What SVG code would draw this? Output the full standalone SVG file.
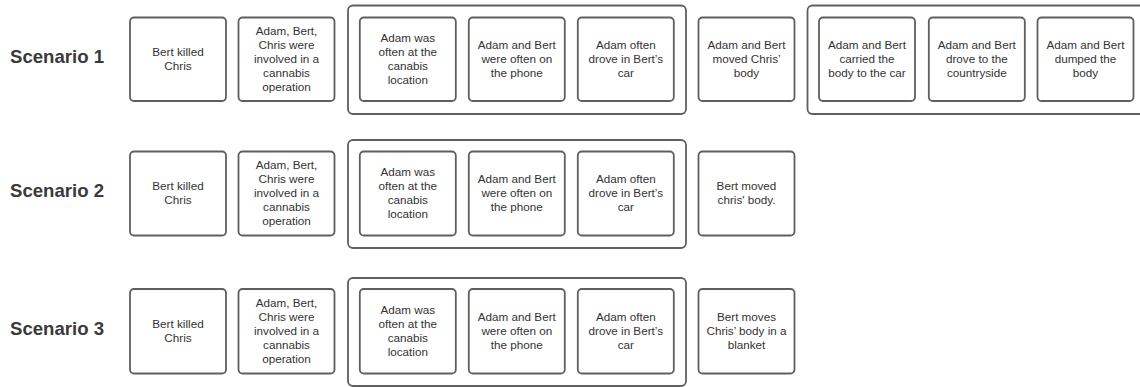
<svg xmlns="http://www.w3.org/2000/svg" width="1140" height="387" viewBox="0 0 1140 387">
<style>
.bg{fill:#ffffff}
.box{fill:#ffffff;stroke:#5f5f5f;stroke-width:1.8}
.grp{fill:none;stroke:#5f5f5f;stroke-width:1.8}
.t{font-family:"Liberation Sans",Arial,sans-serif;font-size:11.7px;fill:#333333;text-anchor:middle}
.lbl{font-family:"Liberation Sans",Arial,sans-serif;font-size:18.6px;font-weight:bold;fill:#3a3a3a}
</style>
<rect class="bg" x="0" y="0" width="1140" height="387"/>
<g id="connectors"></g>

<!-- Row 1 -->
<g id="label1"><text class="lbl" x="10" y="63.3">Scenario 1</text></g>
<g id="group1a"><rect class="grp" x="348" y="5.5" width="338" height="108.5" rx="5"/></g>
<g id="group1b"><rect class="grp" x="807.5" y="5.5" width="338" height="108.5" rx="5"/></g>
<g id="r1n1"><rect class="box" x="130" y="17.5" width="96" height="83.5" rx="4"/>
<text class="t" x="178"><tspan x="178" y="55.5">Bert killed</tspan><tspan x="178" y="69.5">Chris</tspan></text></g>
<g id="r1n2"><rect class="box" x="238.5" y="17.5" width="96" height="83.5" rx="4"/>
<text class="t"><tspan x="286.5" y="34.5">Adam, Bert,</tspan><tspan x="286.5" y="48.5">Chris were</tspan><tspan x="286.5" y="62.5">involved in a</tspan><tspan x="286.5" y="76.5">cannabis</tspan><tspan x="286.5" y="90.5">operation</tspan></text></g>
<g id="r1n3"><rect class="box" x="359.8" y="17.5" width="96" height="83.5" rx="4"/>
<text class="t"><tspan x="407.8" y="41.5">Adam was</tspan><tspan x="407.8" y="55.5">often at the</tspan><tspan x="407.8" y="69.5">canabis</tspan><tspan x="407.8" y="83.5">location</tspan></text></g>
<g id="r1n4"><rect class="box" x="468.8" y="17.5" width="96" height="83.5" rx="4"/>
<text class="t"><tspan x="516.8" y="48.5">Adam and Bert</tspan><tspan x="516.8" y="62.5">were often on</tspan><tspan x="516.8" y="76.5">the phone</tspan></text></g>
<g id="r1n5"><rect class="box" x="577.8" y="17.5" width="96" height="83.5" rx="4"/>
<text class="t"><tspan x="625.8" y="48.5">Adam often</tspan><tspan x="625.8" y="62.5">drove in Bert’s</tspan><tspan x="625.8" y="76.5">car</tspan></text></g>
<g id="r1n6"><rect class="box" x="698.5" y="17.5" width="96" height="83.5" rx="4"/>
<text class="t"><tspan x="746.5" y="48.5">Adam and Bert</tspan><tspan x="746.5" y="62.5">moved Chris’</tspan><tspan x="746.5" y="76.5">body</tspan></text></g>
<g id="r1n7"><rect class="box" x="819" y="17.5" width="96" height="83.5" rx="4"/>
<text class="t"><tspan x="867" y="48.5">Adam and Bert</tspan><tspan x="867" y="62.5">carried the</tspan><tspan x="867" y="76.5">body to the car</tspan></text></g>
<g id="r1n8"><rect class="box" x="928.8" y="17.5" width="96" height="83.5" rx="4"/>
<text class="t"><tspan x="976.8" y="48.5">Adam and Bert</tspan><tspan x="976.8" y="62.5">drove to the</tspan><tspan x="976.8" y="76.5">countryside</tspan></text></g>
<g id="r1n9"><rect class="box" x="1037.5" y="17.5" width="96" height="83.5" rx="4"/>
<text class="t"><tspan x="1085.5" y="48.5">Adam and Bert</tspan><tspan x="1085.5" y="62.5">dumped the</tspan><tspan x="1085.5" y="76.5">body</tspan></text></g>

<!-- Row 2 -->
<g id="label2"><text class="lbl" x="10" y="197.3">Scenario 2</text></g>
<g id="group2"><rect class="grp" x="348" y="140" width="338" height="108" rx="5"/></g>
<g id="r2n1"><rect class="box" x="130" y="151.5" width="96" height="84" rx="4"/>
<text class="t"><tspan x="178" y="189.7">Bert killed</tspan><tspan x="178" y="203.7">Chris</tspan></text></g>
<g id="r2n2"><rect class="box" x="238.5" y="151.5" width="96" height="84" rx="4"/>
<text class="t"><tspan x="286.5" y="168.7">Adam, Bert,</tspan><tspan x="286.5" y="182.7">Chris were</tspan><tspan x="286.5" y="196.7">involved in a</tspan><tspan x="286.5" y="210.7">cannabis</tspan><tspan x="286.5" y="224.7">operation</tspan></text></g>
<g id="r2n3"><rect class="box" x="359.8" y="151.5" width="96" height="84" rx="4"/>
<text class="t"><tspan x="407.8" y="175.7">Adam was</tspan><tspan x="407.8" y="189.7">often at the</tspan><tspan x="407.8" y="203.7">canabis</tspan><tspan x="407.8" y="217.7">location</tspan></text></g>
<g id="r2n4"><rect class="box" x="468.8" y="151.5" width="96" height="84" rx="4"/>
<text class="t"><tspan x="516.8" y="182.7">Adam and Bert</tspan><tspan x="516.8" y="196.7">were often on</tspan><tspan x="516.8" y="210.7">the phone</tspan></text></g>
<g id="r2n5"><rect class="box" x="577.8" y="151.5" width="96" height="84" rx="4"/>
<text class="t"><tspan x="625.8" y="182.7">Adam often</tspan><tspan x="625.8" y="196.7">drove in Bert’s</tspan><tspan x="625.8" y="210.7">car</tspan></text></g>
<g id="r2n6"><rect class="box" x="698.5" y="151.5" width="96" height="84" rx="4"/>
<text class="t"><tspan x="746.5" y="189.7">Bert moved</tspan><tspan x="746.5" y="203.7">chris' body.</tspan></text></g>

<!-- Row 3 -->
<g id="label3"><text class="lbl" x="10" y="335">Scenario 3</text></g>
<g id="group3"><rect class="grp" x="348" y="278" width="338" height="108" rx="5"/></g>
<g id="r3n1"><rect class="box" x="130" y="289" width="96" height="84.5" rx="4"/>
<text class="t"><tspan x="178" y="327.5">Bert killed</tspan><tspan x="178" y="341.5">Chris</tspan></text></g>
<g id="r3n2"><rect class="box" x="238.5" y="289" width="96" height="84.5" rx="4"/>
<text class="t"><tspan x="286.5" y="306.5">Adam, Bert,</tspan><tspan x="286.5" y="320.5">Chris were</tspan><tspan x="286.5" y="334.5">involved in a</tspan><tspan x="286.5" y="348.5">cannabis</tspan><tspan x="286.5" y="362.5">operation</tspan></text></g>
<g id="r3n3"><rect class="box" x="359.8" y="289" width="96" height="84.5" rx="4"/>
<text class="t"><tspan x="407.8" y="313.5">Adam was</tspan><tspan x="407.8" y="327.5">often at the</tspan><tspan x="407.8" y="341.5">canabis</tspan><tspan x="407.8" y="355.5">location</tspan></text></g>
<g id="r3n4"><rect class="box" x="468.8" y="289" width="96" height="84.5" rx="4"/>
<text class="t"><tspan x="516.8" y="320.5">Adam and Bert</tspan><tspan x="516.8" y="334.5">were often on</tspan><tspan x="516.8" y="348.5">the phone</tspan></text></g>
<g id="r3n5"><rect class="box" x="577.8" y="289" width="96" height="84.5" rx="4"/>
<text class="t"><tspan x="625.8" y="320.5">Adam often</tspan><tspan x="625.8" y="334.5">drove in Bert’s</tspan><tspan x="625.8" y="348.5">car</tspan></text></g>
<g id="r3n6"><rect class="box" x="698.5" y="289" width="96" height="84.5" rx="4"/>
<text class="t"><tspan x="746.5" y="320.5">Bert moves</tspan><tspan x="746.5" y="334.5">Chris’ body in a</tspan><tspan x="746.5" y="348.5">blanket</tspan></text></g>
</svg>
